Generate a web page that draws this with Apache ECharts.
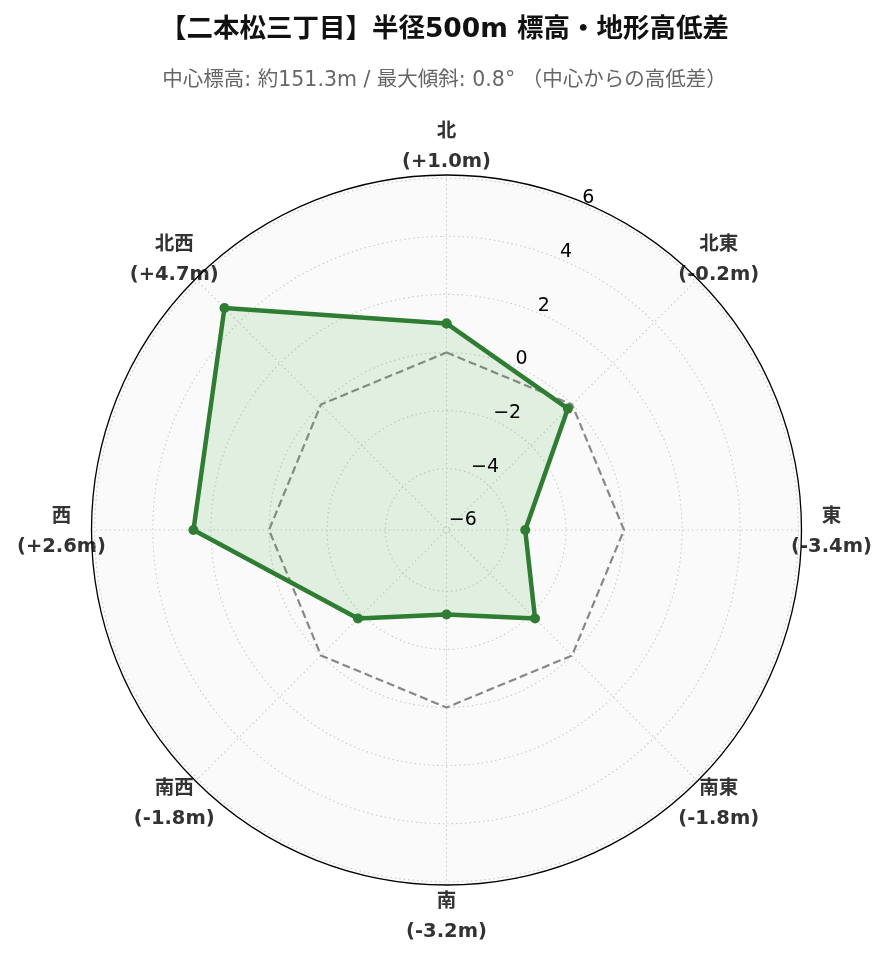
<!DOCTYPE html>
<html>
<head>
<meta charset="utf-8">
<script src="https://cdn.jsdelivr.net/npm/echarts@6/dist/echarts.min.js"></script>
<style>
html,body{margin:0;padding:0;background:#fff;}
#chart{width:889px;height:962px;}
</style>
</head>
<body>
<div id="chart"></div>
<script>
const titleText = '【二本松三丁目】半径500m 標高・地形高低差';
const subtitleText = '中心標高: 約151.3m / 最大傾斜: 0.8° （中心からの高低差）';
const directions = ['北', '北東', '東', '南東', '南', '南西', '西', '北西'];
const elevationDiff = [1.0, -0.2, -3.4, -1.8, -3.2, -1.8, 2.6, 4.7];
const radialTicks = [-6, -4, -2, 0, 2, 4, 6];
const radialLimit = 6.11;

const FONT = '"DejaVu Sans", "Noto Sans CJK JP", sans-serif';
const CENTER = [446.5, 530];
const RADIUS = 355;
const LABEL_GAP = 30;
const step = 360 / directions.length;

const mainData = elevationDiff.map((v, i) => [v, i * step]);
mainData.push([elevationDiff[0], 360]);
const zeroData = elevationDiff.map((v, i) => [0, i * step]);
zeroData.push([0, 360]);
// direction labels sit just outside the outer ring
const labelRadiusValue = -radialLimit + (RADIUS + LABEL_GAP) / RADIUS * 2 * radialLimit;
const labelData = directions.map((d, i) => ({value: [labelRadiusValue, i * step], name: d, diff: elevationDiff[i]}));

function fmtDiff(v) {
  return '(' + (v >= 0 ? '+' : '-') + Math.abs(v).toFixed(1) + 'm)';
}

const gridLine = {show: true, lineStyle: {color: '#cccccc', width: 1.1, type: [1.5, 3]}};

const chart = echarts.init(document.getElementById('chart'), null, {renderer: 'canvas'});
chart.setOption({
  animation: false,
  backgroundColor: '#ffffff',
  title: [
    {
      text: titleText, left: 'center', top: 9,
      textStyle: {fontFamily: FONT, fontSize: 26.5, fontWeight: 'bold', color: '#111111', lineHeight: 32}
    },
    {
      text: subtitleText, left: 'center', top: 63,
      textStyle: {fontFamily: FONT, fontSize: 20.5, fontWeight: 'normal', color: '#666666', lineHeight: 26}
    }
  ],
  polar: [
    {center: CENTER, radius: RADIUS},
    {center: CENTER, radius: RADIUS}
  ],
  angleAxis: [
    {
      polarIndex: 0, type: 'value', min: 0, max: 360, interval: step,
      startAngle: 90, clockwise: true, z: 1,
      axisLine: {show: true, lineStyle: {color: '#000000', width: 1.3}},
      axisTick: {show: false},
      axisLabel: {show: false},
      splitLine: gridLine,
      splitArea: {show: false}
    },
    {
      polarIndex: 1, type: 'value', min: 0, max: 360, interval: step,
      startAngle: 67.5, clockwise: true, z: -3,
      axisLine: {show: false},
      axisTick: {show: false},
      axisLabel: {show: false},
      splitLine: {show: false},
      splitArea: {show: true, areaStyle: {color: ['#fafafa']}}
    }
  ],
  radiusAxis: [
    {
      polarIndex: 0, type: 'value', min: -radialLimit, max: radialLimit, z: 1,
      axisLine: {show: false},
      axisTick: {show: false, customValues: radialTicks},
      axisLabel: {show: false, customValues: radialTicks},
      splitLine: gridLine
    },
    {
      polarIndex: 1, type: 'value', min: -radialLimit, max: radialLimit, z: 10,
      axisLine: {show: false},
      axisTick: {show: false, customValues: radialTicks},
      splitLine: {show: false},
      axisLabel: {
        show: true, customValues: radialTicks, margin: 0, align: 'left', verticalAlign: 'bottom',
        fontFamily: FONT, fontSize: 19, color: '#000000', lineHeight: 13, padding: [0, 0, 0, 1],
        formatter: function (v) { return String(v).replace('-', '\u2212'); }
      }
    }
  ],
  series: [
    {
      type: 'scatter', coordinateSystem: 'polar', polarIndex: 0, clip: false,
      data: labelData, symbol: 'circle', symbolSize: 2, z: -1, silent: true,
      itemStyle: {color: 'rgba(0,0,0,0)'},
      label: {
        show: true, position: 'inside', align: 'center', verticalAlign: 'middle', opacity: 1,
        offset: [0, 2],
        fontFamily: FONT, fontSize: 19.5, fontWeight: 'bold', color: '#333333', lineHeight: 30,
        formatter: function (p) { return p.data.name + '\n' + fmtDiff(p.data.diff); }
      }
    },
    {
      type: 'line', coordinateSystem: 'polar', polarIndex: 0,
      data: zeroData, symbol: 'none', z: 3, silent: true,
      lineStyle: {color: '#888888', width: 2.2, type: [8, 4]}
    },
    {
      type: 'line', coordinateSystem: 'polar', polarIndex: 0,
      data: mainData, symbol: 'circle', symbolSize: 10, z: 4,
      itemStyle: {color: '#2e7d32'},
      lineStyle: {color: '#2e7d32', width: 4.5},
      areaStyle: {origin: 'start', color: 'rgba(76,175,80,0.2)'}
    }
  ]
});
</script>
</body>
</html>
